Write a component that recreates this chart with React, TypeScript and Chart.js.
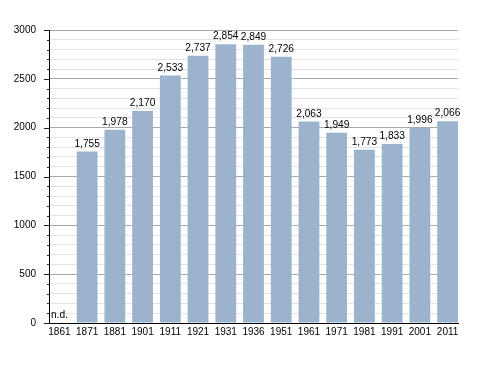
import React, { useEffect, useRef } from "react";
import { Chart, registerables } from "chart.js";

Chart.register(...registerables);

const years = ["1861", "1871", "1881", "1901", "1911", "1921", "1931", "1936", "1951", "1961", "1971", "1981", "1991", "2001", "2011"];
const population: (number | null)[] = [null, 1755, 1978, 2170, 2533, 2737, 2854, 2849, 2726, 2063, 1949, 1773, 1833, 1996, 2066];
const valueLabels = ["n.d.", "1,755", "1,978", "2,170", "2,533", "2,737", "2,854", "2,849", "2,726", "2,063", "1,949", "1,773", "1,833", "1,996", "2,066"];
const yMax = 3000;
const yMinorStep = 100;
const yMajorStep = 500;

const FONT = "'Liberation Sans', Arial, Helvetica, sans-serif";

const labelPlugin = {
  id: "valueLabels",
  afterDatasetsDraw(chart: any) {
    const ctx = chart.ctx;
    const meta = chart.getDatasetMeta(0);
    const yScale = chart.scales.y;
    ctx.save();
    ctx.font = `10.2px ${FONT}`;
    ctx.fillStyle = "#000";
    ctx.textAlign = "center";
    ctx.textBaseline = "alphabetic";
    meta.data.forEach((el: any, i: number) => {
      const v = population[i];
      const yPix = v == null ? yScale.getPixelForValue(0) : el.y;
      const x = chart.scales.x.getPixelForValue(i);
      ctx.fillText(valueLabels[i], x, yPix - 5);
    });
    ctx.restore();
  },
};

const tickPlugin = {
  id: "yTicks",
  afterDraw(chart: any) {
    const ctx = chart.ctx;
    const yScale = chart.scales.y;
    const left = chart.chartArea.left;
    ctx.save();
    ctx.strokeStyle = "#222";
    ctx.lineWidth = 1;
    for (let v = 0; v <= yMax; v += yMinorStep) {
      const y = Math.round(yScale.getPixelForValue(v)) + 0.5;
      const len = v % yMajorStep === 0 ? 5 : 2;
      ctx.beginPath();
      ctx.moveTo(left - len, y);
      ctx.lineTo(left, y);
      ctx.stroke();
    }
    ctx.restore();
  },
};

export default function App() {
  const ref = useRef<HTMLCanvasElement>(null);
  useEffect(() => {
    if (!ref.current) return;
    const chart = new Chart(ref.current, {
      type: "bar",
      data: {
        datasets: [
          {
            data: population.map((v, i) => ({ x: i, y: v })) as any,
            backgroundColor: "#9bb3cd",
            borderWidth: 0,
            barPercentage: 0.75,
            categoryPercentage: 1,
          },
        ],
      },
      options: {
        responsive: false,
        animation: false,
        layout: { padding: { top: 30, right: 30, left: 0, bottom: 0 } },
        plugins: { legend: { display: false }, tooltip: { enabled: false } },
        scales: {
          x: {
            type: "linear",
            offset: false,
            min: -0.375,
            max: 14.375,
            grid: { display: false, drawTicks: false, offset: false },
            border: { display: true, color: "#000", width: 1 },
            afterBuildTicks: (scale: any) => {
              scale.ticks = years.map((_, i) => ({ value: i }));
            },
            afterFit: (scale: any) => {
              scale.height = 50;
            },
            ticks: {
              autoSkip: false,
              maxRotation: 0,
              padding: 3,
              color: "#000",
              font: { family: FONT, size: 10 },
              callback: (v: any) => years[v as number] ?? "",
            },
          },
          y: {
            min: 0,
            max: yMax,
            grid: {
              drawTicks: false,
              color: (c: any) => (c.tick && c.tick.value % yMajorStep === 0 ? "#a9a9a9" : "#e3e3e3"),
            },
            border: { display: true, color: "#000", width: 1 },
            afterFit: (scale: any) => {
              scale.width = 49;
            },
            ticks: {
              stepSize: yMinorStep,
              autoSkip: false,
              padding: 13,
              color: "#000",
              font: { family: FONT, size: 10 },
              callback: (v: any) => ((v as number) % yMajorStep === 0 ? String(v) : ""),
            },
          },
        },
      },
      plugins: [labelPlugin, tickPlugin],
    });
    return () => chart.destroy();
  }, []);
  return (
    <div style={{ position: "absolute", left: 0, top: 0, width: 488, height: 373, background: "#fff" }}>
      <canvas ref={ref} width={488} height={373} />
    </div>
  );
}
